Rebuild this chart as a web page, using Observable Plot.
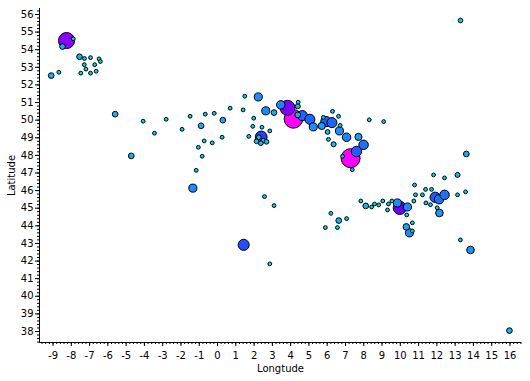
<!DOCTYPE html>
<html>
<head>
<meta charset="utf-8">
<script src="https://cdn.jsdelivr.net/npm/d3@7"></script>
<script src="https://cdn.jsdelivr.net/npm/@observablehq/plot@0.6"></script>
<style>
  html, body { margin: 0; padding: 0; background: #fff; }
  #chart svg { display: block; }
</style>
</head>
<body>
<div id="chart"></div>
<script>
// Longitude of each site
const lon = [
  -8.26, -8.48, -7.89, -7.55, -7.28, -6.95, -6.48, -6.41, -7.29, -6.72, -7.20, -7.48, -6.95, -6.64, -9.10, -8.68,
  -5.60, -4.07, -2.81, -3.45, -1.50, -0.67, -0.18, 0.69, 1.49, 2.23, 1.40, 0.29, -0.90, -1.94, 1.98, 1.93, 1.71, 0.25,
  -0.73, -0.29, -1.05, -0.84, -1.17, -4.72, -1.35,
  2.39, 2.26, 2.50, 2.68, 2.13, 2.37, 2.43, 2.86, 2.57, 3.09, 1.43, 2.86,
  2.64, 3.09, 3.46, 3.83, 4.15, 4.41, 4.39, 4.39, 4.64, 5.05, 5.24, 5.70, 5.93, 6.26, 6.02, 6.07, 6.35, 6.67, 7.06,
  6.29, 6.62, 7.28, 6.84, 7.37, 7.71, 7.60, 7.99, 8.30, 9.09, 5.79, 6.71,
  13.61, 11.82, 12.42, 13.13, 10.78, 11.38, 11.71, 10.83, 11.21, 11.91, 12.12, 12.42, 13.13, 13.57, 11.40, 11.65, 12.02, 12.14,
  7.84, 8.11, 8.43, 8.59, 8.82, 9.04, 9.35, 9.54, 9.84, 9.97, 10.39, 10.74, 10.35, 9.30,
  6.20, 6.63, 7.06, 5.90, 6.56, 10.66, 10.33, 10.50, 10.66, 13.29, 13.84, 13.29, 15.97
];
// Latitude of each site
const lat = [
  54.52, 54.18, 54.62, 53.6, 53.5, 53.55, 53.48, 53.33, 53.15, 53.15, 52.9, 52.67, 52.67, 52.78, 52.53, 52.72,
  50.34, 49.94, 50.05, 49.26, 50.22, 50.34, 50.39, 50.68, 51.36, 51.32, 50.58, 50.0, 49.68, 49.48, 50.11, 49.65, 49.08, 49.03,
  48.82, 48.71, 48.46, 47.95, 47.15, 47.97, 46.14,
  49.05, 49.03, 48.84, 48.77, 48.8, 48.69, 49.6, 49.39, 45.66, 45.15, 42.92, 41.84,
  50.53, 50.43, 50.87, 50.7, 50.07, 51.02, 50.79, 50.3, 50.26, 50.05, 49.62, 49.67, 49.92, 49.86, 49.33, 48.91, 48.63, 49.39, 49.03,
  50.5, 50.22, 47.84, 47.95, 47.19, 49.05, 48.22, 48.6, 50.02, 49.92, 50.16, 49.7,
  48.08, 46.89, 46.72, 46.89, 46.32, 46.07, 46.07, 45.76, 45.76, 45.62, 45.51, 45.76, 45.76, 45.93, 45.3, 45.2, 45.02, 44.73,
  45.41, 45.13, 45.07, 45.24, 45.19, 45.41, 45.24, 45.41, 45.3, 45.02, 45.07, 45.41, 44.62, 44.9,
  44.71, 44.3, 44.41, 43.9, 43.9, 44.17, 43.94, 43.6, 43.71, 43.2, 42.63, 55.66, 38.05
];
// Value at each site (drives size and colour)
const value = [
  72, 9, 4, 9, 4, 4, 4, 4, 4, 4, 4, 4, 4, 4, 9, 4,
  9, 4, 4, 4, 4, 4, 4, 4, 4, 18, 4, 9, 9, 4, 4, 4, 4, 4,
  4, 4, 4, 4, 4, 9, 18,
  38, 6, 6, 6, 6, 6, 4, 4, 4, 4, 34, 4,
  18, 9, 20, 62, 95, 4, 7, 9, 28, 28, 18, 14, 30, 28, 6, 4, 7, 18, 20,
  4, 4, 100, 4, 4, 14, 30, 25, 4, 4, 4, 4,
  9, 4, 4, 7, 4, 4, 4, 4, 4, 30, 25, 25, 4, 4, 4, 4, 4, 16,
  4, 9, 4, 4, 4, 4, 4, 4, 18, 48, 18, 4, 4, 4,
  4, 9, 4, 4, 4, 4, 12, 18, 4, 4, 16, 6, 9
];
const xTicks = d3.range(-9, 17, 1);
const yTicks = d3.range(38, 57, 1);
const xMinor = d3.range(-9.6, 16.61, 0.2).map(d => +d.toFixed(1));
const yMinor = d3.range(37.4, 56.31, 0.2).map(d => +d.toFixed(1));
const xDomain = [-9.74, 16.63];
const yDomain = [37.375, 56.34];
const colorStops = [4, 9, 18, 28, 38, 48, 72, 95];
const colorRange = ["#00d4e8", "#14b0f2", "#1e8cff", "#1e64ff", "#2a3cff", "#6a00f0", "#8c00ff", "#ff00ff"];

const data = lon.map((x, i) => ({lon: x, lat: lat[i], v: value[i]}));

const chart = Plot.plot({
  width: 530,
  height: 381,
  marginLeft: 39,
  marginRight: 9,
  marginTop: 8,
  marginBottom: 39,
  style: {fontFamily: "DejaVu Sans", fontSize: "10px", background: "#fff", color: "#000"},
  x: {domain: xDomain},
  y: {domain: yDomain},
  r: {type: "sqrt", domain: [0, 100], range: [0, 9.5]},
  color: {type: "linear", domain: colorStops, range: colorRange},
  marks: [
    Plot.axisX({ticks: xTicks, tickSize: 4, tickPadding: 5, tickFormat: d => String(d), label: "Longtude", labelAnchor: "center", labelOffset: 29, labelArrow: "none"}),
    Plot.axisX({ticks: xMinor, tickSize: 2, tickFormat: () => "", label: null}),
    Plot.axisY({ticks: yTicks, tickSize: 4, tickPadding: 2, tickFormat: d => String(d), label: "Latitude", labelAnchor: "center", labelOffset: 32, labelArrow: "none"}),
    Plot.axisY({ticks: yMinor, tickSize: 2, tickFormat: () => "", label: null}),
    Plot.ruleX([xDomain[0]], {stroke: "#000"}),
    Plot.ruleY([yDomain[0]], {stroke: "#000"}),
    Plot.dot(data, {x: "lon", y: "lat", r: "v", fill: "v", stroke: "#000", strokeWidth: 1, fillOpacity: 1})
  ]
});
document.getElementById("chart").appendChild(chart);
</script>
</body>
</html>
